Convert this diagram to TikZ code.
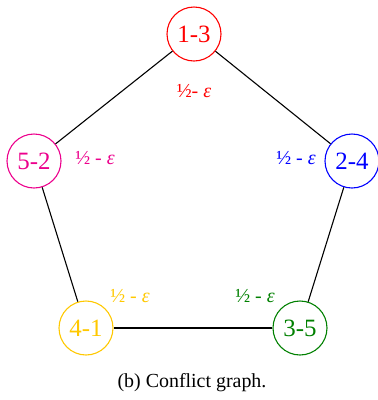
\documentclass[tikz,border=0pt]{standalone}
\usepackage{fontspec}
\setmainfont{Liberation Serif}
\usepackage{xcolor}
\usepackage{tikz}
\usetikzlibrary{positioning}
\definecolor{gold}{RGB}{255,200,0}
\definecolor{dgreen}{RGB}{0,128,0}
\tikzset{
  %% Vertex of the conflict graph
  vnode/.style={
    circle, draw=#1, text=#1,
    minimum size=54bp, inner sep=0pt,
    font=\fontsize{25}{27}\selectfont,
    line width=1.1pt
  },
  vnode/.default=black,
  %% Weight label
  wlbl/.style={text=#1, font=\fontsize{20}{22}\selectfont, inner sep=1pt},
  wlbl/.default=black,
  %% Edge
  edg/.style={draw=black, line width=1.1pt},
}
\begin{document}
\begin{tikzpicture}[x=1bp, y=-1bp]
  \useasboundingbox (0,0) rectangle (378,400);

  %% Vertices
  \node[vnode=red]     (n13) at (194,34)  {1-3};
  \node[vnode=blue]    (n24) at (352,161) {2-4};
  \node[vnode=dgreen]  (n35) at (300,328) {3-5};
  \node[vnode=gold]    (n41) at (86,328)  {4-1};
  \node[vnode=magenta] (n52) at (34,161)  {5-2};

  %% Edges
  \draw[edg] (n13) -- (n24);
  \draw[edg] (n24) -- (n35);
  \draw[edg] (n35) -- (n41);
  \draw[edg] (n41) -- (n52);
  \draw[edg] (n52) -- (n13);

  %% Weights
  \node[wlbl=red]     (w13) at (194,91)  {½- \textit{ε}};
  \node[wlbl=blue]    (w24) at (296,158) {½ - \textit{ε}};
  \node[wlbl=dgreen]  (w35) at (255,296) {½ - \textit{ε}};
  \node[wlbl=gold]    (w41) at (130,296) {½ - \textit{ε}};
  \node[wlbl=magenta] (w52) at (95,158)  {½ - \textit{ε}};

  %% Caption
  \node[font=\fontsize{20}{22}\selectfont] (cap) at (192,383)
       {(b) Conflict graph.};

\end{tikzpicture}
\end{document}
